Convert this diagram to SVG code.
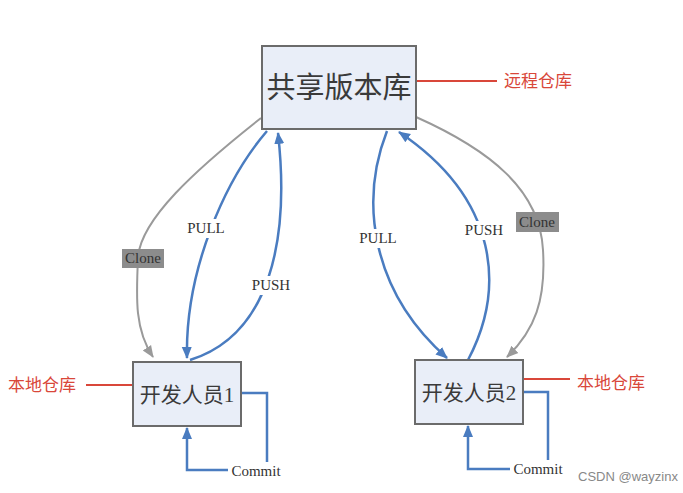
<svg xmlns="http://www.w3.org/2000/svg" width="683" height="493" viewBox="0 0 683 493">
<defs>
<marker id="ab" markerUnits="userSpaceOnUse" markerWidth="12" markerHeight="12" viewBox="0 0 12 12" refX="11" refY="6" orient="auto"><path d="M0,1 L12,6 L0,11 Z" fill="#4a7cc0"/></marker>
<marker id="ag" markerUnits="userSpaceOnUse" markerWidth="12" markerHeight="12" viewBox="0 0 12 12" refX="11" refY="6" orient="auto"><path d="M0,1 L12,6 L0,11 Z" fill="#9a9a9a"/></marker>
<style>
.box{fill:#e9eef8;stroke:#6b6b6b;stroke-width:2}
.nt{font-family:"Liberation Serif","Noto Sans CJK SC",serif;fill:#3a3a3a;text-anchor:middle}
.blue{fill:none;stroke:#4a7cc0;stroke-width:2.5}
.gray{fill:none;stroke:#9a9a9a;stroke-width:2}
.red{stroke:#d9473a;stroke-width:1.8}
.rt{font-family:"Noto Sans CJK SC","Liberation Sans",sans-serif;fill:#d9473a;font-size:17px}
.lbl{font-family:"Liberation Serif",serif;font-size:15px;fill:#333;text-anchor:middle}
.cl{fill:#8c8c8c}
</style>
</defs>
<rect width="683" height="493" fill="#ffffff"/>
<g id="connectors">
<path class="gray" d="M261,118 C195,170 140,220 138,258 C136,300 135,330 153,357" marker-end="url(#ag)"/>
<path class="blue" d="M267,131 C225,180 185,270 187,358" marker-end="url(#ab)"/>
<path class="blue" d="M190,360 C270,335 290,240 278,133" marker-end="url(#ab)"/>
<path class="blue" d="M387,131 C360,200 370,290 447,358" marker-end="url(#ab)"/>
<path class="blue" d="M468,360 C505,290 500,200 399,132" marker-end="url(#ab)"/>
<path class="gray" d="M416,117 C490,150 540,190 543,250 C546,300 535,330 507,357" marker-end="url(#ag)"/>
<path class="blue" d="M241,393 H267 V462"/>
<path class="blue" d="M228,470 H187 V428" marker-end="url(#ab)"/>
<path class="blue" d="M523,392 H548 V460"/>
<path class="blue" d="M510,469 H468 V426" marker-end="url(#ab)"/>
<line class="red" x1="416" y1="81" x2="497" y2="81"/>
<line class="red" x1="86" y1="385" x2="134" y2="385"/>
<line class="red" x1="523" y1="379" x2="570" y2="379"/>
<rect x="183" y="219" width="46" height="19" fill="#fff"/>
<text class="lbl" x="206" y="233">PULL</text>
<rect x="246" y="276" width="50" height="19" fill="#fff"/>
<text class="lbl" x="271" y="290">PUSH</text>
<rect x="354" y="229" width="48" height="19" fill="#fff"/>
<text class="lbl" x="378" y="243">PULL</text>
<rect x="459" y="221" width="50" height="19" fill="#fff"/>
<text class="lbl" x="484" y="235">PUSH</text>
<rect class="cl" x="122" y="249" width="42" height="19"/>
<text class="lbl" x="143" y="263" fill="#222">Clone</text>
<rect class="cl" x="516" y="212" width="43" height="20"/>
<text class="lbl" x="537" y="227" fill="#222">Clone</text>
<text class="lbl" x="256" y="476">Commit</text>
<text class="lbl" x="538" y="474">Commit</text>
</g>
<g id="remote">
<rect class="box" x="262" y="46" width="154" height="83"/>
<text class="nt" x="339" y="98" font-size="29">共享版本库</text>
</g>
<g id="dev1">
<rect class="box" x="133" y="362" width="108" height="64"/>
<text class="nt" x="187" y="402" font-size="21">开发人员1</text>
</g>
<g id="dev2">
<rect class="box" x="415" y="360" width="108" height="64"/>
<text class="nt" x="469" y="400" font-size="21">开发人员2</text>
</g>
<g id="labels">
<text class="rt" x="504" y="87">远程仓库</text>
<text class="rt" x="8" y="391">本地仓库</text>
<text class="rt" x="577" y="389">本地仓库</text>
<text x="578" y="481" font-family="Liberation Sans,sans-serif" font-size="13" fill="#888">CSDN @wayzinx</text>
</g>
</svg>
